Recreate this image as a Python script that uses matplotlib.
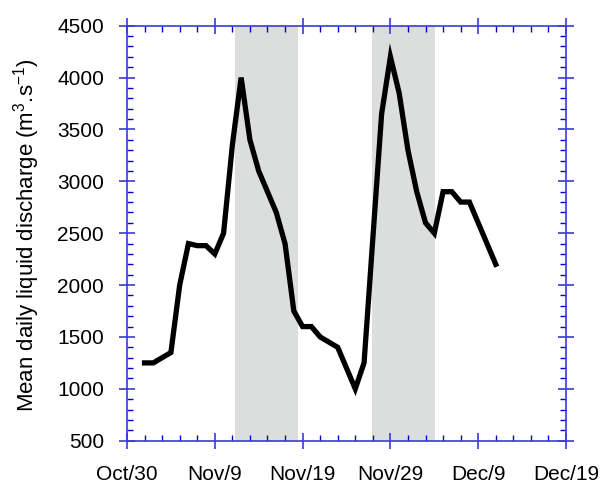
import matplotlib
matplotlib.use("Agg")
import matplotlib.pyplot as plt
from matplotlib.ticker import MultipleLocator, FixedLocator
import numpy as np

# Data: days since Oct 30
days = list(range(2, 43))
discharge = [1250, 1250, 1300, 1350, 2000, 2400, 2380, 2380, 2300, 2500,
             3350, 4000, 3400, 3100, 2900, 2700, 2400, 1750, 1600, 1600,
             1500, 1450, 1400, 1200, 1000, 1250, 2450, 3650, 4200, 3850,
             3300, 2900, 2600, 2500, 2900, 2900, 2800, 2800, 2600, 2400,
             2200]
shade_spans = [(12.3, 19.5), (27.95, 35.1)]
xtick_pos = [0, 10, 20, 30, 40, 50]
xtick_labels = ["Oct/30", "Nov/9", "Nov/19", "Nov/29", "Dec/9", "Dec/19"]

plt.rcParams['font.family'] = ['Liberation Sans', 'DejaVu Sans']
plt.rcParams['mathtext.fontset'] = 'custom'
plt.rcParams['mathtext.rm'] = 'Liberation Sans'

fig = plt.figure(figsize=(6.02, 4.84), dpi=100)
ax = fig.add_axes([127/602, 1-440.7/484, (566-127)/602, (440.7-25.7)/484])

for a, b in shade_spans:
    ax.axvspan(a, b, color='#dcdddd', lw=0, zorder=0)

ax.plot(days, discharge, color='black', lw=3.8, solid_joinstyle='miter', zorder=3)

ax.set_xlim(0, 50)
ax.set_ylim(500, 4500)
ax.xaxis.set_major_locator(FixedLocator(xtick_pos))
ax.set_xticklabels(xtick_labels)
ax.xaxis.set_minor_locator(MultipleLocator(2))
ax.yaxis.set_major_locator(MultipleLocator(500))
ax.yaxis.set_minor_locator(MultipleLocator(100))

axcol = '#3a3ad8'
for s in ax.spines.values():
    s.set_color(axcol)
    s.set_linewidth(1.2)
ax.tick_params(which='major', direction='inout', length=11, width=1.2, color=axcol,
               top=True, right=True, labelsize=15)
ax.tick_params(which='minor', direction='in', length=4, width=1.0, color='#0000cc',
               top=True, right=True)
ax.tick_params(axis='x', which='major', pad=12)
ax.tick_params(axis='y', which='major', pad=11)

ax.set_ylabel(r"Mean daily liquid discharge (m$^{3}$.s$^{\mathrm{-}1}$)", fontsize=16)
ax.yaxis.set_label_coords(-0.194, 0.495)

fig.savefig("out.png", dpi=100)
